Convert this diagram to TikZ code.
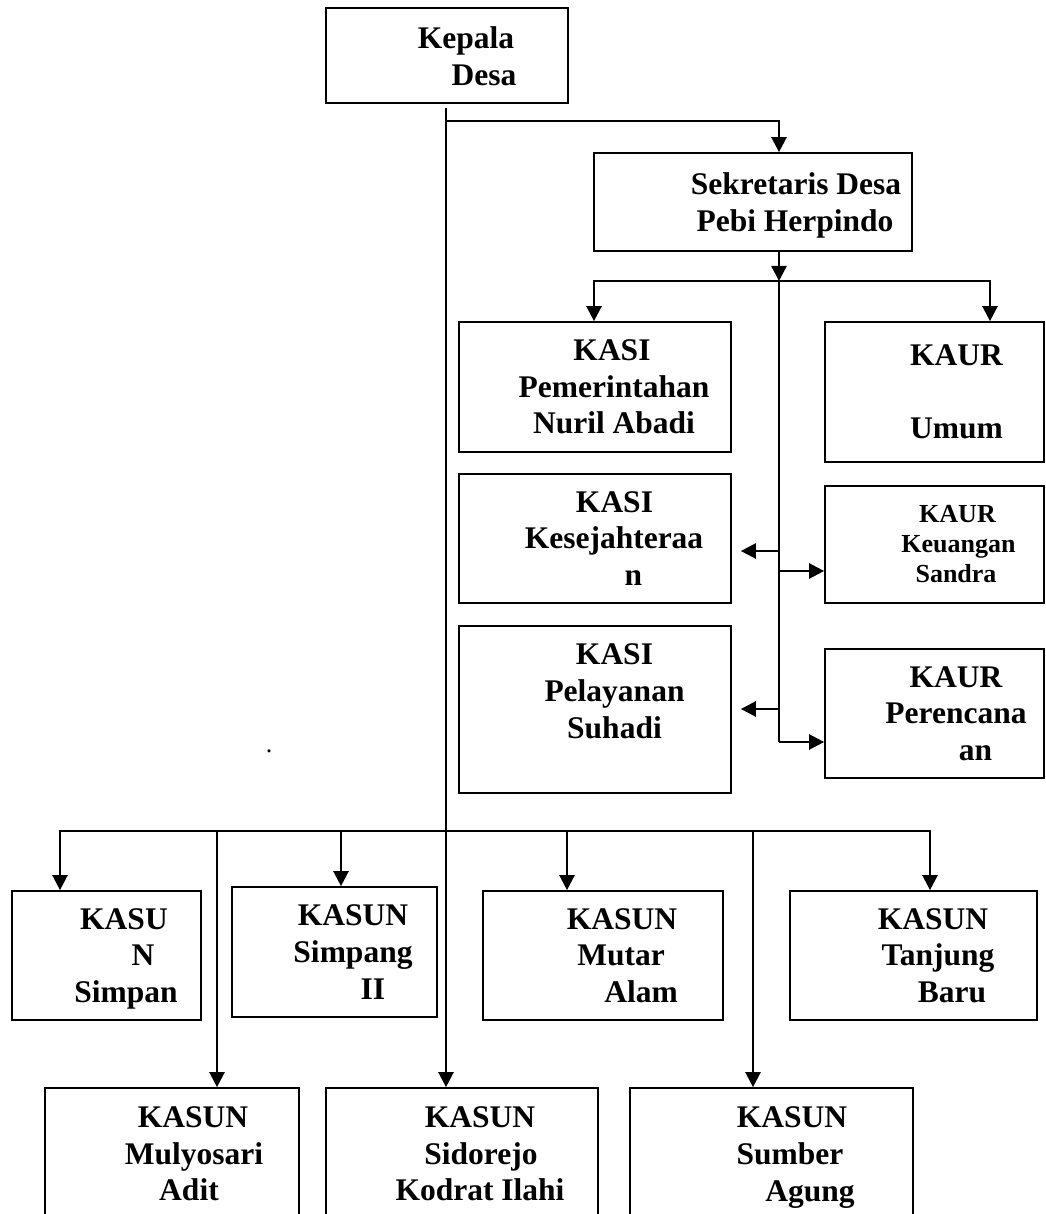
\documentclass[tikz,border=0pt]{standalone}
\usepackage{fontspec}
\setmainfont{Liberation Serif}
\usetikzlibrary{arrows.meta}
\newcommand\nodep[1]{\raisebox{0pt}[\height][0pt]{#1}}
\newcommand\sh[1]{\hspace*{#1pt}}
\begin{document}
\begin{tikzpicture}[x=1pt,y=-1pt,
  box/.style={draw, line width=1.7pt, inner sep=0pt, align=center,
    font=\fontsize{31.5}{36.7}\selectfont\bfseries},
  smallbox/.style={box, font=\fontsize{26}{30}\selectfont\bfseries},
  conn/.style={line width=2.4pt},
  arr/.style={conn, -{Triangle[length=15pt,width=15pt]}}]
\useasboundingbox (0,0) rectangle (1045,1214);
\clip (0,0) rectangle (1045,1214);
% boxes
\node[box, minimum width=242, minimum height=95] (kd) at (447,55.5) {\sh{38}\raisebox{0pt}[24pt][0pt]{Kepala}\\\sh{74}Desa};
\node[box, minimum width=318, minimum height=98] (sek) at (753,202) {\sh{86}Sekretaris Desa\\\sh{84}\nodep{Pebi Herpindo}};
\node[box, minimum width=272, minimum height=130] (kpem) at (595,387) {\sh{34}KASI\\\sh{38}Pemerintahan\\\sh{38}Nuril Abadi};
\node[box, minimum width=219, minimum height=140] (kumum) at (934.5,392) {\sh{44}KAUR\\[36.7pt]\sh{44}Umum};
\node[box, minimum width=272, minimum height=129] (kkes) at (595,538.5) {\sh{39}KASI\\\sh{38}Kesejahteraa\\\sh{77}n};
\node[smallbox, minimum width=219, minimum height=117] (kkeu) at (934.5,544.5) {\sh{46}KAUR\\\sh{48}Keuangan\\\sh{43}Sandra};
\node[box, minimum width=272, minimum height=167] (kpel) at (595,709.5) {\sh{39}KASI\\\sh{39}Pelayanan\\\sh{39}Suhadi\\\mbox{}};
\node[box, minimum width=219, minimum height=129] (kper) at (934.5,713.5) {\sh{43}KAUR\\\sh{43}Perencana\\\sh{82}an};
\node[box, minimum width=189, minimum height=129] (ksim) at (106.5,955.5) {\sh{35}KASU\\\sh{73}N\\\sh{39}\nodep{Simpan}};
\node[box, minimum width=205, minimum height=130] (kspg) at (334.5,952) {\sh{37}KASUN\\\sh{37}Simpang\\\sh{77}II};
\node[box, minimum width=240, minimum height=129] (kmut) at (603,955.5) {\sh{38}KASUN\\\sh{36}Mutar\\\sh{76}Alam};
\node[box, minimum width=247, minimum height=129] (ktan) at (913.5,955.5) {\sh{39}KASUN\\\sh{49}Tanjung\\\sh{77}Baru};
\node[box, minimum width=254, minimum height=132] (kmul) at (172,1154) {\sh{42}KASUN\\\sh{44}Mulyosari\\\sh{34}Adit};
\node[box, minimum width=272, minimum height=132] (ksid) at (462,1154) {\sh{36}KASUN\\\sh{38}Sidorejo\\\sh{36}Kodrat Ilahi};
\node[box, minimum width=283, minimum height=132] (ksum) at (771.5,1154) {\sh{41}KASUN\\\sh{37}Sumber\\\sh{77}\nodep{Agung}};
\node[font=\fontsize{26}{26}\selectfont, inner sep=0pt, anchor=base] (dot) at (269,752) {.};
% junctions
\coordinate (j1) at (446,121);
\coordinate (sp) at (779,281);
\coordinate (spb) at (779,742);
\coordinate (bar) at (446,831);
\coordinate (a1) at (779,551);
\coordinate (a2) at (779,571);
\coordinate (a3) at (779,709);
% main spine
\draw[arr, shorten <=4pt] (kd.south -| j1) -- (ksid.north -| j1);
\draw[arr] (j1) -| (sek.north -| sp);
\draw[arr] (sek.south -| sp) -- (sp);
\draw[conn] (sp) -- (spb);
\draw[arr] (sp) -| (kpem.north -| 594,0);
\draw[arr] (sp) -| (kumum.north -| 990,0);
\draw[arr, shorten >=9pt] (a1) -- (a1 -| kkes.east);
\draw[arr] (a2) -- (a2 -| kkeu.west);
\draw[arr, shorten >=9pt] (a3) -- (a3 -| kpel.east);
\draw[arr] (spb) -- (spb -| kper.west);
% bottom bar
\draw[arr] (bar) -| (ksim.north -| 60,0);
\draw[arr] (bar) -| (ktan.north -| 930,0);
\draw[arr] (bar -| 341,0) -- (kspg.north -| 341,0);
\draw[arr] (bar -| 567,0) -- (kmut.north -| 567,0);
\draw[arr] (bar -| 217,0) -- (kmul.north -| 217,0);
\draw[arr] (bar -| 753,0) -- (ksum.north -| 753,0);
\end{tikzpicture}
\end{document}
